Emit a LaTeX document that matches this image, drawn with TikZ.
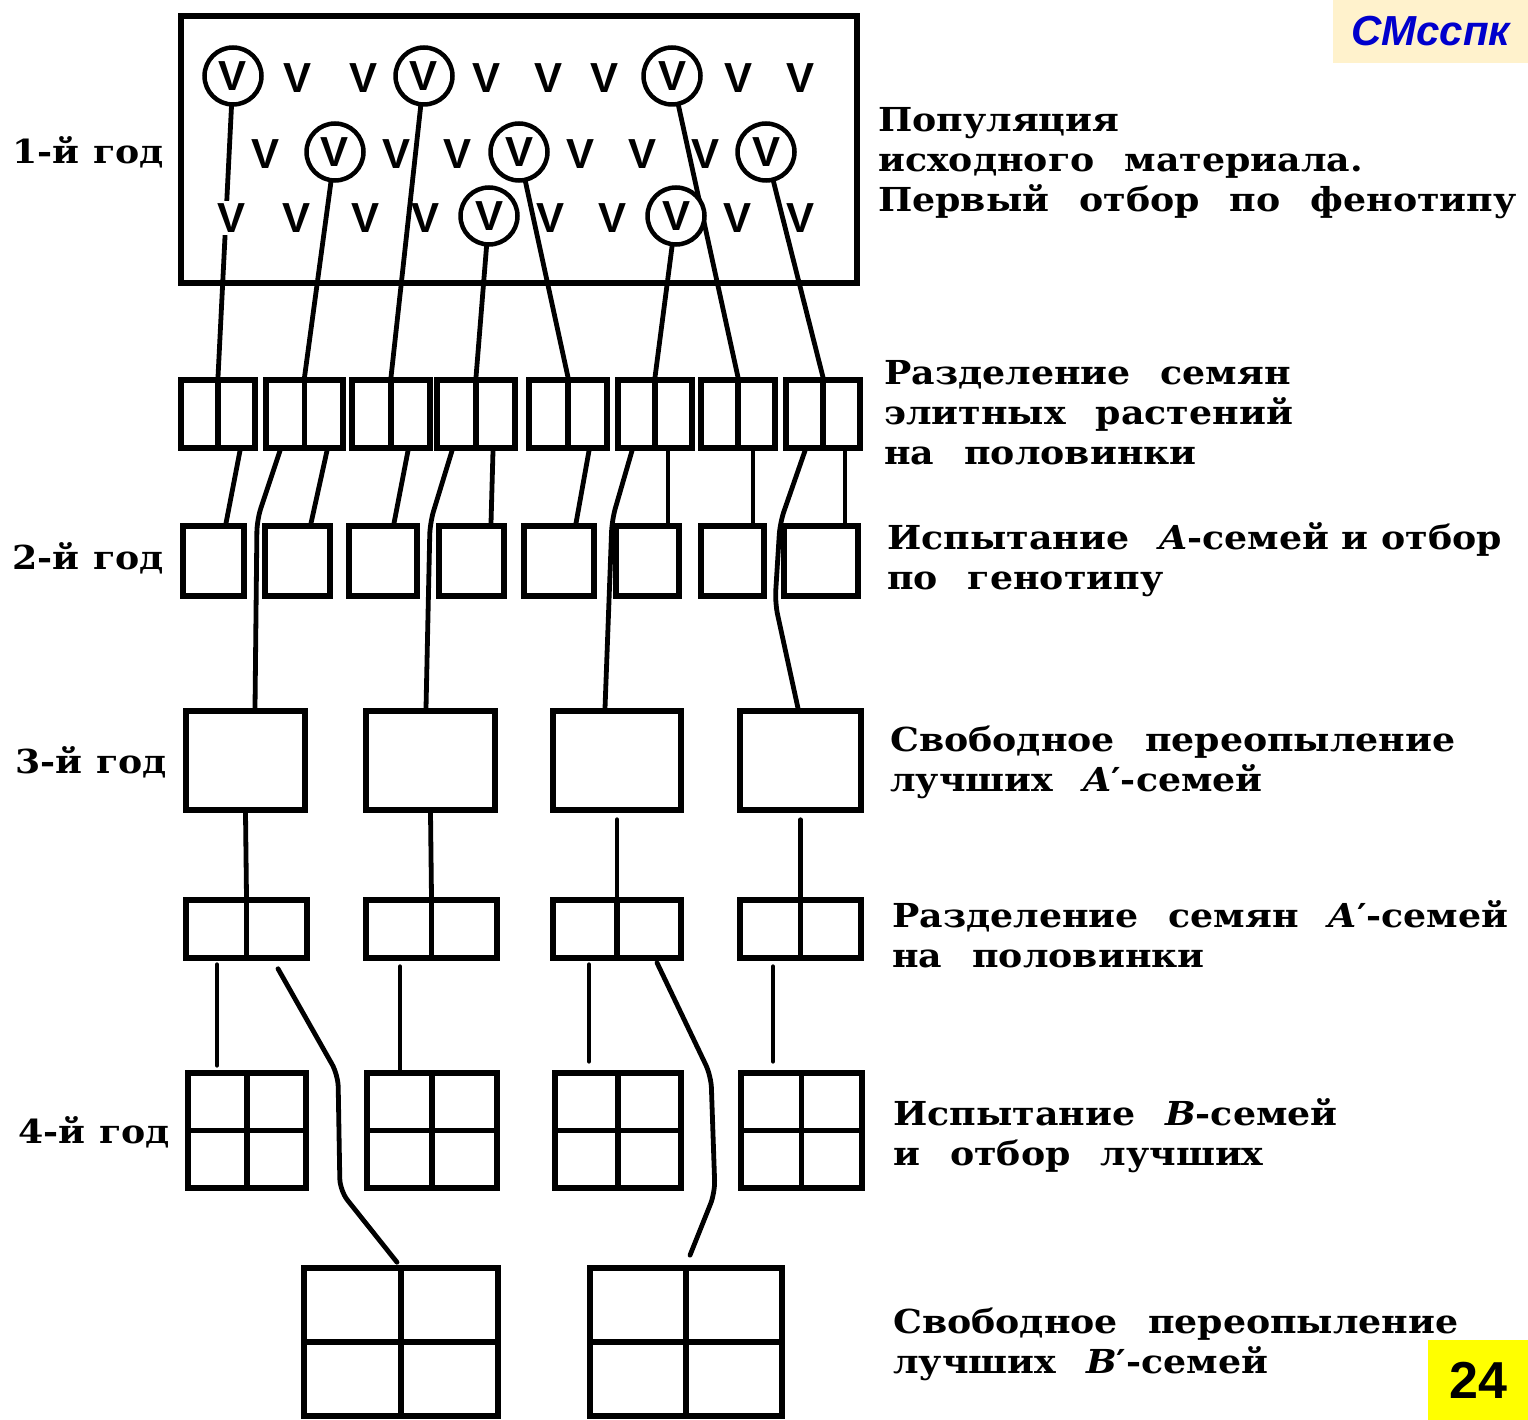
\documentclass[tikz,border=0pt]{standalone}
\usepackage{fontspec}
\setmainfont{DejaVu Serif}[FakeStretch=1.1]
\newfontfamily\sansf{Liberation Sans}
\usetikzlibrary{calc,backgrounds}
\definecolor{badgebg}{RGB}{255,242,204}
\definecolor{badgeblue}{RGB}{0,0,204}
\definecolor{pageyellow}{RGB}{255,255,0}
\newcommand\gap{\hspace*{30pt}}
\newcommand\mkbox[5]{\node[bx, minimum width={(#4-#2)*1pt}, minimum height={(#5-#3)*1pt}] (#1) at ({(#2+#4)/2},{(#3+#5)/2}) {};}
\begin{document}
\begin{tikzpicture}[x=1pt,y=-1pt,
  bx/.style={draw, line width=5.5pt, inner sep=0pt},
  lnk/.style={line width=4.8pt, line cap=round, rounded corners=12pt},
  selc/.style={circle, draw, line width=4.5pt, fill=white, minimum size=57pt, inner sep=0pt, font=\sansf\bfseries\fontsize{42}{42}\selectfont},
  vv/.style={inner sep=0pt, inner ysep=3pt, font=\sansf\bfseries\fontsize{42}{42}\selectfont},
  lab/.style={anchor=west, align=left, inner sep=0pt, font=\bfseries\fontsize{33}{40}\selectfont},
]
\useasboundingbox (0,0) rectangle (1528,1420);

% ---- top population box
\mkbox{T}{181}{16}{857}{283}
% selected plants (circled)
\node[selc] (c1) at (233,76) {V};
\node[selc] (c2) at (424,76) {V};
\node[selc] (c3) at (672,76) {V};
\node[selc] (c4) at (335,152) {V};
\node[selc] (c5) at (519,152) {V};
\node[selc] (c6) at (766,152) {V};
\node[selc] (c7) at (489,216) {V};
\node[selc] (c8) at (676,216) {V};
% other plants
\foreach \x [count=\i] in {298,364,487,548,604,738,800}
  \node[vv] (va\i) at (\x,78) {V};
\foreach \x [count=\i] in {266,397,458,580,642,705}
  \node[vv] (vb\i) at (\x,154) {V};
\node[vv, fill=white] (vc1) at (232,218) {V};
\foreach \x [count=\i from 2] in {297,366,426,550,612,737,800}
  \node[vv] (vc\i) at (\x,218) {V};

% ---- seed halves
\mkbox{s1}{181}{380}{255}{448}
\mkbox{s2}{266}{380}{343}{448}
\mkbox{s3}{352}{380}{430}{448}
\mkbox{s4}{437}{380}{515}{448}
\mkbox{s5}{529}{380}{607}{448}
\mkbox{s6}{618}{380}{692}{448}
\mkbox{s7}{701}{380}{775}{448}
\mkbox{s8}{786}{380}{860}{448}
\foreach \n in {s1,s2,s3,s4,s5,s6,s7,s8}
  \draw[bx] (\n.north) -- (\n.south);

% ---- A-families (2nd year)
\mkbox{a1}{183}{526}{244}{596}
\mkbox{a2}{265}{526}{330}{596}
\mkbox{a3}{349}{526}{417}{596}
\mkbox{a4}{439}{526}{504}{596}
\mkbox{a5}{524}{526}{594}{596}
\mkbox{a6}{616}{526}{679}{596}
\mkbox{a7}{701}{526}{764}{596}
\mkbox{a8}{784}{526}{858}{596}

% ---- 3rd year
\mkbox{y1}{186}{711}{305}{810}
\mkbox{y2}{366}{711}{495}{810}
\mkbox{y3}{553}{711}{681}{810}
\mkbox{y4}{740}{711}{861}{810}

% ---- halves of A'-families
\mkbox{p1}{186}{900}{307}{958}
\mkbox{p2}{366}{900}{497}{958}
\mkbox{p3}{553}{900}{681}{958}
\mkbox{p4}{740}{900}{861}{958}
\foreach \n in {p1,p2,p3,p4}
  \draw[bx] (\n.north) -- (\n.south);

% ---- 4th year
\mkbox{q1}{188}{1073}{306}{1188}
\mkbox{q2}{367}{1073}{497}{1188}
\mkbox{q3}{555}{1073}{681}{1188}
\mkbox{q4}{741}{1073}{862}{1188}
\foreach \n in {q1,q2,q3,q4}
  \draw[bx] (\n.north) -- (\n.south) (\n.west) -- (\n.east);

% ---- final
\mkbox{f1}{304}{1268}{498}{1416}
\mkbox{f2}{590}{1268}{782}{1416}
\foreach \n in {f1,f2}
  \draw[bx] (\n.north) -- (\n.south) (\n.west) -- (\n.east);

% ---- connectors
\begin{pgfonlayer}{background}
\draw[lnk] (c1.center) -- (s1.north);
\draw[lnk] (c4.center) -- (s2.north);
\draw[lnk] (c2.center) -- (s3.north);
\draw[lnk] (c7.center) -- (s4.north);
\draw[lnk] (c5.center) -- (s5.north);
\draw[lnk] (c8.center) -- (s6.north);
\draw[lnk] (c3.center) -- (s7.north);
\draw[lnk] (c6.center) -- (s8.north);

\draw[lnk] ($(s1.south)+(22,0)$) -- ($(a1.north)+(12.5,0)$);
\draw[lnk] ($(s2.south)+(22.5,0)$) -- ($(a2.north)+(13.5,0)$);
\draw[lnk] ($(s2.south)+(-24.5,0)$) -- ($(s2.south)+(-47.5,69)$) -- ($(y1.north)+(9.5,0)$);
\draw[lnk] ($(s3.south)+(17,0)$) -- ($(a3.north)+(11,0)$);
\draw[lnk] ($(s4.south)+(-24,0)$) -- ($(s4.south)+(-46,72)$) -- ($(y2.north)+(-4.5,0)$);
\draw[lnk] ($(s4.south)+(17,0)$) -- ($(a4.north)+(19.5,0)$);
\draw[lnk] ($(s5.south)+(21,0)$) -- ($(a5.north)+(17,0)$);
\draw[lnk] ($(s6.south)+(-23,0)$) -- ($(s6.south)+(-43,69)$) -- ($(y3.north)+(-12,0)$);
\draw[lnk] ($(s6.south)+(13,0)$) -- ($(a6.north)+(20.5,0)$);
\draw[lnk] ($(s7.south)+(15,0)$) -- ($(a7.north)+(20.5,0)$);
\draw[lnk] ($(s8.south)+(-18,0)$) -- ($(s8.south)+(-43,72)$) -- ($(s8.south)+(-48,152)$) -- ($(y4.north)+(-2.5,0)$);
\draw[lnk] ($(s8.south)+(22,0)$) -- ($(a8.north)+(24,0)$);

\draw[lnk] (y1.south) -- (p1.north);
\draw[lnk] (y2.south) -- (p2.north);
\draw[lnk] ($(y3.south)+(0,7)$) -- (p3.north);
\draw[lnk] ($(y4.south)+(0,7)$) -- (p4.north);

\draw[lnk] ($(p1.south)+(-29.5,4)$) -- ($(q1.north)+(-30,-5)$);
\draw[lnk] ($(p1.south)+(31.5,8)$) -- ($(p1.south)+(91.5,114)$) -- ($(p1.south)+(93.5,230)$) -- ($(f1.north)+(-4,-3)$);
\draw[lnk] ($(p2.south)+(-31.5,6)$) -- ($(q2.north)+(-32,0)$);
\draw[lnk] ($(p3.south)+(-28,4)$) -- ($(q3.north)+(-29,-9)$);
\draw[lnk] ($(p3.south)+(40,2)$) -- ($(p3.south)+(94,115)$) -- ($(p3.south)+(98,232)$) -- ($(f2.north)+(4,-10)$);
\draw[lnk] ($(p4.south)+(-27.5,6)$) -- ($(q4.north)+(-28.5,-9)$);
\end{pgfonlayer}

% ---- year labels
\node[lab] (g1) at (12,152) {1-й\hspace{14pt}год};
\node[lab] (g2) at (12,558) {2-й\hspace{14pt}год};
\node[lab] (g3) at (15,762) {3-й\hspace{14pt}год};
\node[lab] (g4) at (18,1132) {4-й\hspace{14pt}год};

% ---- descriptions
\node[lab] (t1) at (878,163) {Популяция\\исходного\gap материала.\\Первый\gap отбор\gap по\gap фенотипу};
\node[lab] (t2) at (884,413) {Разделение\gap семян\\элитных\gap растений\\на\gap половинки};
\node[lab] (t3) at (887,560) {Испытание\gap \textit{A}-семей и отбор\\по\gap генотипу};
\node[lab] (t4) at (890,762) {Свободное\gap переопыление\\лучших\gap \textit{A}′-семей};
\node[lab] (t5) at (892,934) {Разделение\gap семян\gap \textit{A}′-семей\\на\gap половинки};
\node[lab] (t6) at (893,1136) {Испытание\gap \textit{B}-семей\\и\gap отбор\gap лучших};
\node[lab] (t7) at (893,1344) {Свободное\gap переопыление\\лучших\gap \textit{B}′-семей};

% ---- badges
\node[fill=badgebg, minimum width=195pt, minimum height=63pt, inner sep=0pt,
      font=\sansf\bfseries\itshape\fontsize{42}{42}\selectfont, text=badgeblue] (badge) at (1430.5,31.5) {СМсспк};
\node[fill=pageyellow, minimum width=100pt, minimum height=80pt, inner sep=0pt,
      font=\sansf\bfseries\fontsize{52}{52}\selectfont] (pnum) at (1478,1380) {24};
\end{tikzpicture}
\end{document}
